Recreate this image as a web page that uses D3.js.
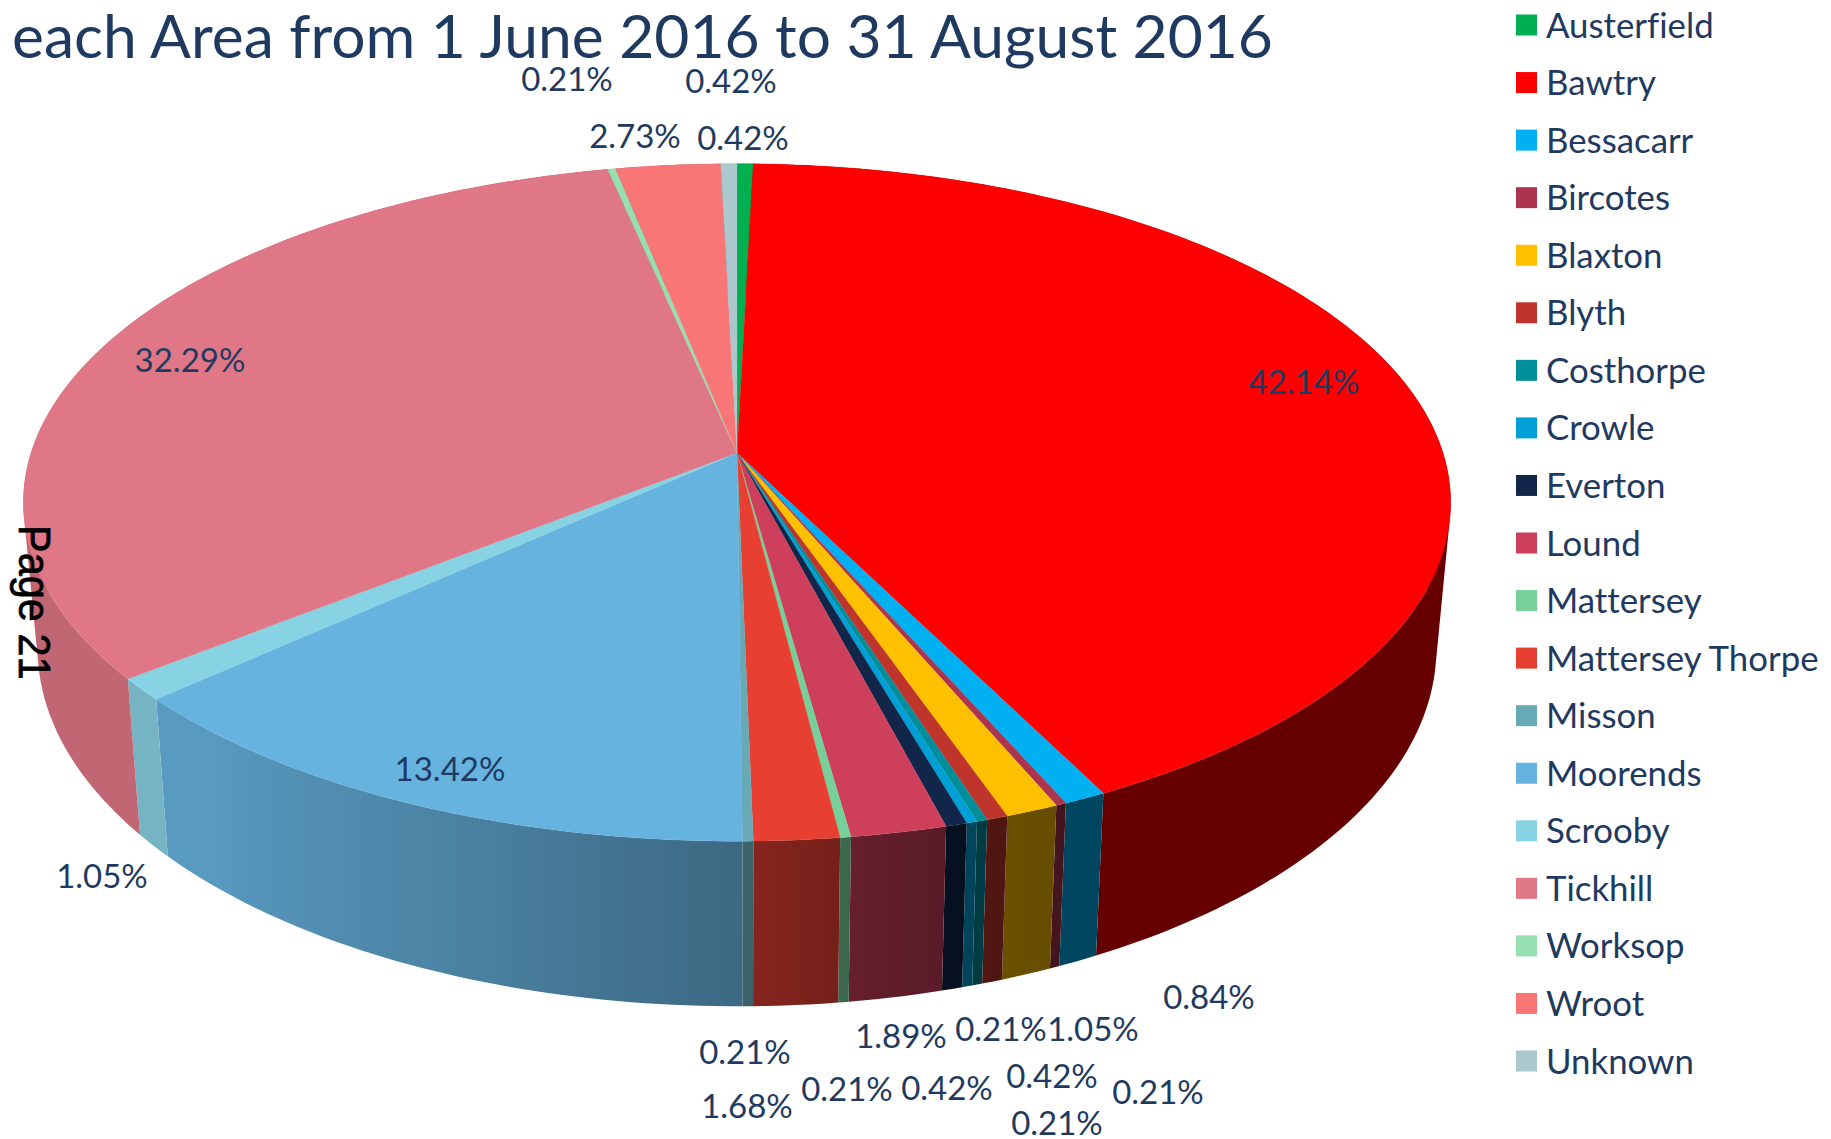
<!DOCTYPE html>
<html>
<head>
<meta charset="utf-8">
<style>
  html, body { margin: 0; padding: 0; background: #fff; }
  text { font-family: Lato, "Open Sans", sans-serif; fill: #1f3a60; font-variant-ligatures: none; }
</style>
<script src="https://cdn.jsdelivr.net/npm/d3@7"></script>
</head>
<body>
<div id="holder"></div>
<script>
var titleText = 'each Area from 1 June 2016 to 31 August 2016';
var pageText = 'Page 21';

var areas = ['Austerfield', 'Bawtry', 'Bessacarr', 'Bircotes', 'Blaxton', 'Blyth', 'Costhorpe',
  'Crowle', 'Everton', 'Lound', 'Mattersey', 'Mattersey Thorpe', 'Misson', 'Moorends',
  'Scrooby', 'Tickhill', 'Worksop', 'Wroot', 'Unknown'];
var percents = [0.42, 42.14, 0.84, 0.21, 1.05, 0.42, 0.21,
  0.21, 0.42, 1.89, 0.21, 1.68, 0.21, 13.42,
  1.05, 32.29, 0.21, 2.73, 0.42];
var colours = ['#00b050', '#ff0000', '#00b0f0', '#ad344e', '#ffc000', '#c0352b', '#008e9a',
  '#009fd6', '#12264a', '#ce3f5b', '#77cf9a', '#e83f33', '#67aab5', '#67b3e0',
  '#88d3e3', '#e07786', '#95dfb1', '#f97676', '#abc8cf'];

// labels were hand placed in the original, so these are page positions
var labelX = [743, 1304, 1209, 1158, 1093, 1052, 1057, 1001, 947, 901, 847, 747, 745, 450, 102, 190, 567, 635, 731];
var labelY = [137, 381, 996, 1091, 1028, 1075, 1122, 1028, 1087, 1035, 1088, 1105, 1051, 768, 875, 359, 78, 135, 80];

var fullWidth = 1831;
var fullHeight = 1139;

// perspective disc: apex of the pie and the way a unit circle lands on the page
var apexX = 737;
var apexY = 453;
var radiusX = 706;
var radiusY = 331.5;
var tilt = -0.146;
// bottom disc relative to the top one
var bottomScaleX = 0.98;
var bottomScaleY = 1.057;
var depth = 143;

function topPoint(a) {
  var u = Math.sin(a), v = -Math.cos(a);
  var w = 1 + tilt * v;
  return [radiusX * u / w, radiusY * v / w];
}

function bottomPoint(a) {
  var p = topPoint(a);
  return [p[0] * bottomScaleX, p[1] * bottomScaleY + depth];
}

// wall gets darker going from left to right
var wallShade = d3.scaleLinear()
  .domain([-520, -495, 10, 170, 315])
  .range([0.86, 0.83, 0.58, 0.45, 0.40])
  .clamp(true);

function shaded(colour, s) {
  var c = d3.rgb(colour);
  return d3.rgb(c.r * s, c.g * s, c.b * s).formatHex();
}

var svg = d3.select('#holder').append('svg')
  .attr('width', fullWidth)
  .attr('height', fullHeight)
  .style('display', 'block');

var pieLayout = d3.pie().sort(null).value(function (d) { return d; });
var slices = pieLayout(percents);
var line = d3.line();

var gradients = svg.append('defs')
  .selectAll('linearGradient')
  .data(colours)
  .enter().append('linearGradient')
  .attr('id', function (d, i) { return 'wall' + i; })
  .attr('gradientUnits', 'userSpaceOnUse')
  .attr('x1', wallShade.domain()[0])
  .attr('x2', wallShade.domain()[4])
  .attr('y1', 0)
  .attr('y2', 0);

gradients.selectAll('stop')
  .data(function (d) {
    return wallShade.domain().map(function (x) { return { x: x, colour: d }; });
  })
  .enter().append('stop')
  .attr('offset', function (d) { return (d.x + 520) / 835; })
  .attr('stop-color', function (d) { return shaded(d.colour, wallShade(d.x)); });

var chart = svg.append('g')
  .attr('transform', 'translate(' + apexX + ',' + apexY + ')');

function arcSteps(d) {
  var n = Math.max(2, Math.ceil((d.endAngle - d.startAngle) / (Math.PI / 180)));
  return d3.range(n + 1).map(function (i) {
    return d.startAngle + (d.endAngle - d.startAngle) * i / n;
  });
}

function wallPath(d) {
  return d3.pairs(arcSteps(d)).map(function (pair) {
    var quad = [topPoint(pair[0]), topPoint(pair[1]), bottomPoint(pair[1]), bottomPoint(pair[0])];
    // same winding everywhere, or overlapping quads cancel out at the sides
    if (d3.polygonArea(quad) < 0) quad.reverse();
    return line(quad) + 'Z';
  }).join('');
}

chart.append('g').classed('walls', true)
  .selectAll('path')
  .data(slices)
  .enter().append('path')
  .attr('d', wallPath)
  .attr('fill', function (d, i) { return 'url(#wall' + i + ')'; })
  .attr('fill-rule', 'nonzero');

chart.append('g').classed('tops', true)
  .selectAll('path')
  .data(slices)
  .enter().append('path')
  .attr('d', function (d) {
    return line([[0, 0]].concat(arcSteps(d).map(topPoint))) + 'Z';
  })
  .attr('fill', function (d, i) { return colours[i]; })
  .attr('stroke', function (d, i) { return colours[i]; })
  .attr('stroke-width', 0.3);

svg.append('g').classed('labels', true)
  .selectAll('text')
  .data(percents)
  .enter().append('text')
  .attr('x', function (d, i) { return labelX[i]; })
  .attr('y', function (d, i) { return labelY[i]; })
  .attr('text-anchor', 'middle')
  .attr('dominant-baseline', 'central')
  .style('font-size', '33px')
  .text(function (d) { return d.toFixed(2) + '%'; });

var legendScale = d3.scalePoint()
  .domain(areas)
  .range([25, 1061]);

var legend = svg.append('g').classed('legend', true)
  .selectAll('g')
  .data(areas)
  .enter().append('g')
  .attr('transform', function (d) { return 'translate(1516,' + legendScale(d) + ')'; });

legend.append('rect')
  .attr('y', -10.5)
  .attr('width', 21)
  .attr('height', 21)
  .attr('fill', function (d, i) { return colours[i]; });

legend.append('text')
  .attr('x', 30)
  .attr('y', -1)
  .attr('dominant-baseline', 'central')
  .style('font-size', '34.8px')
  .text(function (d) { return d; });

svg.append('text')
  .attr('x', 12)
  .attr('y', 58)
  .style('font-size', '60.5px')
  .text(titleText);

svg.append('text')
  .attr('transform', 'translate(19,525) rotate(90) scale(1,1.06)')
  .style('font-family', '"Liberation Sans", sans-serif')
  .style('font-size', '41.5px')
  .style('fill', '#000')
  .style('stroke', '#000')
  .style('stroke-width', 0.7)
  .text(pageText);
</script>
</body>
</html>
